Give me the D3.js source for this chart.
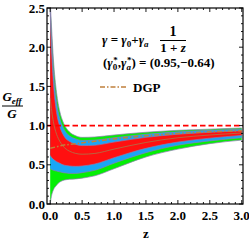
<!DOCTYPE html>
<html>
<head>
<meta charset="utf-8">
<script src="https://cdn.jsdelivr.net/npm/d3@7"></script>
<style>
  body { margin: 0; background: #fff; }
  text { font-family: "Liberation Serif", "DejaVu Serif", serif; }
</style>
</head>
<body>
<svg id="chart" width="249" height="241"></svg>
<script>
// redshift samples
const zs = [0, 0.025, 0.05, 0.1, 0.15, 0.2, 0.25, 0.3, 0.4, 0.5, 0.7, 1.0, 1.5, 2.0, 2.5, 3.0];
// band boundaries, top to bottom
const greenTop = [2.6, 2.2, 1.85, 1.42, 1.18, 1.05, 0.97, 0.92, 0.87, 0.85, 0.855, 0.88, 0.915, 0.94, 0.955, 0.97];
const blueTop  = [2.5, 2.05, 1.7, 1.3, 1.09, 0.98, 0.91, 0.87, 0.83, 0.81, 0.815, 0.845, 0.89, 0.92, 0.94, 0.955];
const redTop   = [2.45, 1.9, 1.55, 1.17, 0.99, 0.89, 0.83, 0.80, 0.76, 0.745, 0.75, 0.79, 0.85, 0.89, 0.915, 0.935];
const center   = [1.35, 1.18, 1.05, 0.89, 0.8, 0.74, 0.7, 0.675, 0.645, 0.635, 0.645, 0.70, 0.785, 0.845, 0.88, 0.905];
const redBot   = [0.62, 0.59, 0.57, 0.54, 0.52, 0.50, 0.49, 0.485, 0.48, 0.485, 0.51, 0.59, 0.71, 0.79, 0.84, 0.875];
const blueBot  = [0.45, 0.44, 0.43, 0.42, 0.41, 0.40, 0.395, 0.39, 0.39, 0.40, 0.43, 0.52, 0.655, 0.75, 0.805, 0.845];
const greenBot = [0.0, 0.12, 0.18, 0.24, 0.28, 0.3, 0.31, 0.315, 0.32, 0.33, 0.36, 0.45, 0.6, 0.7, 0.77, 0.815];
// DGP curve
const dgpZ = [0, 0.1, 0.2, 0.3, 0.5, 0.7, 1.0, 1.5, 2.0, 2.5, 3.0];
const dgp  = [0.71, 0.73, 0.75, 0.76, 0.78, 0.80, 0.83, 0.87, 0.90, 0.92, 0.935];
const xTicks = [0, 0.5, 1, 1.5, 2, 2.5, 3];
const yTicks = [0, 0.5, 1, 1.5, 2, 2.5];

const pLeft = 47, pRight = 243, pTop = 8, pBottom = 204;
const svg = d3.select('#chart');

const x = d3.scaleLinear().domain([-0.05, 3.02]).range([pLeft, pRight]);
const y = d3.scaleLinear().domain([0, 2.5]).range([pBottom, pTop]);

svg.append('clipPath').attr('id', 'clip')
  .append('rect').attr('x', pLeft).attr('y', pTop)
  .attr('width', pRight - pLeft).attr('height', pBottom - pTop);

const plot = svg.append('g').attr('clip-path', 'url(#clip)');

const band = (hi, lo) => d3.area()
  .x((d, i) => x(zs[i]))
  .y0((d, i) => y(lo[i]))
  .y1((d, i) => y(hi[i]))
  .curve(d3.curveMonotoneX)(zs);

const line = vals => d3.line()
  .x((d, i) => x(zs[i]))
  .y((d, i) => y(vals[i]))
  .curve(d3.curveMonotoneX)(zs);

// filled bands
plot.append('path').attr('d', band(greenTop, greenBot)).attr('fill', '#05ee05');
plot.append('path').attr('d', band(blueTop, blueBot)).attr('fill', '#1aa6f5');
plot.append('path').attr('d', band(redTop, redBot)).attr('fill', '#ff1010');

// thin boundary lines
[greenTop, blueTop, redTop, redBot, blueBot, greenBot].forEach(v => {
  plot.append('path').attr('d', line(v))
    .attr('fill', 'none').attr('stroke', '#8d7cb0').attr('stroke-width', 0.7);
});
plot.append('path').attr('d', line(center))
  .attr('fill', 'none').attr('stroke', '#a8784a').attr('stroke-width', 0.8);

// GR line
plot.append('line')
  .attr('x1', pLeft).attr('x2', pRight)
  .attr('y1', y(1)).attr('y2', y(1))
  .attr('stroke', '#ff0000').attr('stroke-width', 1.7)
  .attr('stroke-dasharray', '5.5,3');

// DGP
plot.append('path')
  .attr('d', d3.line().x((d, i) => x(dgpZ[i])).y(d => y(d)).curve(d3.curveMonotoneX)(dgp))
  .attr('fill', 'none').attr('stroke', '#c0803c').attr('stroke-width', 1.5)
  .attr('stroke-dasharray', '5,2,1.5,2');

// frame and ticks
svg.append('rect')
  .attr('x', pLeft).attr('y', pTop)
  .attr('width', pRight - pLeft).attr('height', pBottom - pTop)
  .attr('fill', 'none').attr('stroke', '#000').attr('stroke-width', 1.2);

const ticks = svg.append('g').attr('stroke', '#000').attr('stroke-width', 0.9);
d3.range(0, 3.001, 0.1).forEach(t => {
  const major = Math.abs(t * 2 - Math.round(t * 2)) < 1e-6;
  const len = major ? 4 : 2;
  ticks.append('line').attr('x1', x(t)).attr('x2', x(t)).attr('y1', pBottom).attr('y2', pBottom - len);
  ticks.append('line').attr('x1', x(t)).attr('x2', x(t)).attr('y1', pTop).attr('y2', pTop + len);
});
d3.range(0, 2.501, 0.1).forEach(t => {
  const major = Math.abs(t * 2 - Math.round(t * 2)) < 1e-6;
  const len = major ? 4 : 2;
  ticks.append('line').attr('y1', y(t)).attr('y2', y(t)).attr('x1', pLeft).attr('x2', pLeft + len);
  ticks.append('line').attr('y1', y(t)).attr('y2', y(t)).attr('x1', pRight).attr('x2', pRight - len);
});

svg.append('g').selectAll('text').data(xTicks).enter().append('text')
  .attr('x', d => x(d)).attr('y', 220)
  .attr('text-anchor', 'middle').attr('font-size', 13).attr('font-weight', 'bold')
  .text(d => d.toFixed(1));

svg.append('g').selectAll('text').data(yTicks).enter().append('text')
  .attr('x', 45).attr('y', d => y(d) + 4.5)
  .attr('text-anchor', 'end').attr('font-size', 13).attr('font-weight', 'bold')
  .text(d => d.toFixed(1));

// axis labels
svg.append('text').attr('x', 146).attr('y', 238)
  .attr('text-anchor', 'middle').attr('font-size', 13).attr('font-weight', 'bold')
  .text('z');

const yl = svg.append('g').attr('font-size', 13).attr('font-weight', 'bold').attr('font-style', 'italic');
const geff = yl.append('text').attr('x', 12).attr('y', 101).attr('text-anchor', 'middle');
geff.append('tspan').text('G');
geff.append('tspan').attr('font-size', 9).attr('dy', 3).text('eff');
yl.append('line').attr('x1', 2).attr('x2', 23).attr('y1', 106).attr('y2', 106)
  .attr('stroke', '#000').attr('stroke-width', 1);
yl.append('text').attr('x', 12).attr('y', 118).attr('text-anchor', 'middle').text('G');

// annotation
const ann = svg.append('g').attr('font-size', 13).attr('font-weight', 'bold');
const eq = ann.append('text').attr('x', 102).attr('y', 44);
eq.append('tspan').attr('font-style', 'italic').text('γ');
eq.append('tspan').text(' = ');
eq.append('tspan').attr('font-style', 'italic').text('γ');
eq.append('tspan').attr('font-size', 9).attr('dy', 3).text('0');
eq.append('tspan').attr('dy', -3).text('+');
eq.append('tspan').attr('font-style', 'italic').text('γ');
eq.append('tspan').attr('font-size', 9).attr('dy', 3).attr('font-style', 'italic').text('a');
ann.append('text').attr('x', 173).attr('y', 36).attr('font-size', 14).attr('text-anchor', 'middle').text('1');
ann.append('line').attr('x1', 160).attr('x2', 186).attr('y1', 40.5).attr('y2', 40.5)
  .attr('stroke', '#000').attr('stroke-width', 1);
const den = ann.append('text').attr('x', 173).attr('y', 52).attr('text-anchor', 'middle');
den.append('tspan').text('1 + ');
den.append('tspan').attr('font-style', 'italic').text('z');

const pars = ann.append('text').attr('x', 103).attr('y', 67);
pars.append('tspan').text('(');
pars.append('tspan').attr('font-style', 'italic').text('γ');
pars.append('tspan').attr('font-size', 9).attr('dy', 3).text('0');
pars.append('tspan').attr('font-size', 9).attr('dx', -4).attr('dy', -7).text('*');
pars.append('tspan').attr('dy', 4).text(',');
pars.append('tspan').attr('font-style', 'italic').text('γ');
pars.append('tspan').attr('font-size', 9).attr('dy', 3).attr('font-style', 'italic').text('a');
pars.append('tspan').attr('font-size', 9).attr('dx', -4).attr('dy', -7).text('*');
pars.append('tspan').attr('dy', 4).text(') = (0.95,−0.64)');

svg.append('line').attr('x1', 100).attr('x2', 126).attr('y1', 87).attr('y2', 87)
  .attr('stroke', '#c0803c').attr('stroke-width', 1.5).attr('stroke-dasharray', '5,2,1.5,2');
svg.append('text').attr('x', 133).attr('y', 91.5)
  .attr('font-size', 13).attr('font-weight', 'bold').text('DGP');
</script>
</body>
</html>
